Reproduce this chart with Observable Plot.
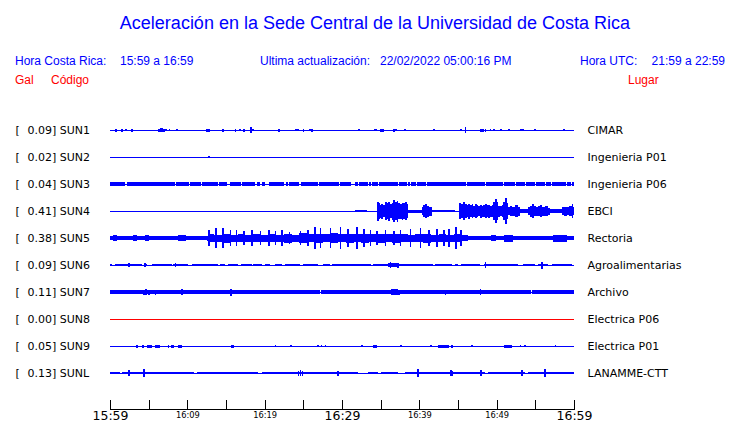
<!DOCTYPE html>
<html><head><meta charset="utf-8">
<script src="https://cdn.jsdelivr.net/npm/d3@7"></script>
<script src="https://cdn.jsdelivr.net/npm/@observablehq/plot@0.6"></script>
<style>
body{margin:0;background:#fff;}
#page{width:740px;height:423px;position:relative;overflow:hidden;background:#fff;}
#head{position:relative;width:740px;height:88px;font-family:"Liberation Sans",Arial,sans-serif;color:#0000ff;}
#head span{position:absolute;white-space:pre;line-height:1;}
#chart svg{display:block;}
</style></head>
<body><div id="page"><div id="head"></div><div id="chart"></div></div>
<script>
// ---------- text ----------
const titleText = "Aceleración en la Sede Central de la Universidad de Costa Rica";
const headerRow = [
  ["Hora Costa Rica:", 15], ["15:59 a 16:59", 120],
  ["Ultima actualización:", 260], ["22/02/2022 05:00:16 PM", 380],
  ["Hora UTC:", 580]
];
const utcRange = "21:59 a 22:59";
const legendRow = [["Gal", 15], ["Código", 51], ["Lugar", 628]];

// ---------- stations ----------
const codes = ["SUN1","SUN2","SUN3","SUN4","SUN5","SUN6","SUN7","SUN8","SUN9","SUNL"];
const peakGal = [0.09,0.02,0.04,0.41,0.38,0.09,0.11,0.00,0.05,0.13];
const places = ["CIMAR","Ingenieria P01","Ingenieria P06","EBCI","Rectoria","Agroalimentarias","Archivo","Electrica P06","Electrica P01","LANAMME-CTT"];

// ---------- time axis (minutes after 15:59) ----------
const tickMinutes = [0,5,10,15,20,25,30,35,40,45,50,55,60];
const tickLabelMinutes = [0,10,20,30,40,50,60];
const tickLabels = ["15:59","16:09","16:19","16:29","16:39","16:49","16:59"];

// ---------- trace shapes: [minute, half amplitude] / [from, to, half amplitude] ----------
const sun1Spikes = [[0.74,1.5],[1.51,1.5],[2.03,1],[2.81,1.5],[6.3,1.5],[6.47,2.3],[6.6,1.8],[6.75,2],[6.89,1.5],[7.2,1],[7.63,1],[8.63,0.8],[12.5,1.5],[12.71,1.5],[14.52,1.5],[16.16,1.5],[16.72,1.3],[18.14,3.3],[18.4,1.3],[21.76,1.5],[24.01,1.3],[24.27,1],[24.96,1.5],[25.82,1.3],[26.08,1.5],[32.11,1],[36.69,1.5],[36.95,1.3],[38.06,1],[41.81,1],[45.35,1],[45.91,3],[48.49,1.5],[49.14,1],[49.62,1],[50.47,1],[51.51,1],[53.06,1.3],[53.32,1],[54.87,1.3],[58.62,1]];
const sun1Blocks = [[6.4,6.95,1.3],[17.15,17.45,1.5],[34.2,34.5,1.3],[34.95,35.45,1.5],[47.85,48.3,1.5]];

const sun2Spikes = [[12.71,1.2]];

const sun3Blocks = [[0,2.0,1.8],[2.15,8.4,1.8],[8.55,10.25,1.8],[10.4,11.8,1.8],[11.95,13.95,1.8],[14.1,15.1,1.8],[15.5,16.95,1.8],[17.1,18.75,1.8],[19.0,19.4,1.8],[19.6,20.0,1.8],[20.5,22.55,1.8],[22.7,23.0,1.8],[23.15,24.5,1.8],[24.65,26.85,1.8],[27.0,29.65,1.8],[29.8,31.2,1.8],[31.7,32.05,1.8],[32.2,33.35,1.8],[33.5,33.75,1.8],[33.9,34.65,1.8],[34.8,37.25,1.8],[37.4,38.35,1.8],[38.5,38.75,1.8],[38.9,39.6,1.8],[39.75,40.85,1.8],[41.0,46.05,1.8],[46.2,48.45,1.8],[48.6,50.85,1.8],[51.0,52.35,1.8],[52.5,53.65,1.8],[53.8,54.95,1.8],[55.1,56.2,1.8],[56.35,57.05,1.8],[57.2,59.0,1.8],[59.15,59.65,1.8],[59.8,60,1.8]];

const sun4Env = [[0,0.5],[31.68,1],[33.2,0.5],[34.57,9.5],[34.75,8],[34.91,6.5],[35.1,7.5],[35.34,6],[35.56,9],[35.78,8],[35.99,9.5],[36.21,7],[36.42,8.5],[36.64,11],[36.85,9],[37.07,10.5],[37.28,8],[37.5,7.5],[37.71,8.5],[37.93,8],[38.15,9],[38.36,7],[38.58,1.5],[40.31,4],[40.5,6],[40.75,7],[41.0,5.5],[41.3,4.5],[41.6,1.4],[44.61,0.5],[45.17,8],[45.4,7],[45.69,9],[45.9,7],[46.1,6],[46.3,7.5],[46.55,6],[46.77,7],[47.0,5.5],[47.2,7],[47.41,6],[47.62,5],[47.84,6.5],[48.05,5.5],[48.27,6],[48.49,7],[48.7,6],[48.92,6.5],[49.14,5.5],[49.35,6],[49.57,9],[49.78,11.7],[50.0,9],[50.21,5.5],[50.45,5],[50.7,6],[50.86,9],[51.1,12.7],[51.3,8],[51.51,4],[51.72,5],[52.0,4.5],[52.37,6],[52.7,4.5],[53.02,2],[54.09,4],[54.3,5.5],[54.52,7],[54.8,5],[55.1,4.5],[55.35,5],[55.6,6],[55.9,4.5],[56.2,5],[56.46,5],[56.7,3.5],[56.9,2],[58.4,4],[58.7,4.5],[59.05,4],[59.35,5],[59.7,7],[59.9,4],[60,4]];

const sun5Env = [[0,2],[0.4,3],[0.9,2],[1.5,2.3],[2.2,1.8],[3.0,2.8],[3.5,2],[4.5,3],[5.0,2.2],[6.0,1.8],[7.0,2.3],[8.0,1.8],[8.8,2.8],[9.8,2],[10.5,1.8],[11.5,2.3],[12.5,2.5],[12.7,4],[13.5,3.5],[14.5,4.5],[15.5,3.5],[16.5,4],[17.5,3.5],[18.5,4],[19.5,3.5],[20.5,4],[21.5,3.5],[22.5,4.5],[23.5,3.5],[24.5,5],[25.5,4],[26.5,4.5],[27.5,4],[28.5,5],[29.5,4],[30.5,4.5],[31.5,4],[32.5,4.5],[33.5,4],[34.5,4.5],[35.5,4],[36.5,4.5],[37.5,4],[38.5,3.5],[39.5,4],[40.5,4.5],[41.5,3.5],[42.5,4],[43.5,3.5],[44.5,4],[45.5,3],[46.3,2.3],[49.3,3],[49.9,2.3],[50.9,3.5],[52.1,2.3],[57.3,3.5],[59.1,2.3],[60,2.3]];
const sun5Spikes = [[12.71,8],[13.67,10],[14.52,10],[15.52,8],[16.29,8],[17.24,7],[18.32,8],[19.4,7],[20.47,8],[21.34,7],[22.2,8],[23.15,6],[24.57,7],[25.51,8],[26.42,11],[27.16,10],[28.45,10],[29.74,11],[30.69,9],[31.9,11],[32.76,9],[33.62,8],[34.49,7],[35.56,8],[36.64,7],[37.5,8],[38.79,9],[40.09,10],[41.16,8],[42.25,9],[43.1,8],[43.75,9],[44.7,11],[45.35,8]];

const sun6Blocks = [[0,0.2,1.3],[0.65,4.1,1.3],[4.45,4.74,1.3],[5.39,7.97,1.3],[8.19,10.13,1.3],[10.65,14.0,1.3],[14.2,14.9,1.3],[15.3,16.6,1.3],[17.0,18.3,1.3],[18.5,19.6,1.3],[20.0,20.7,1.3],[21.3,22.2,1.3],[22.6,24.6,1.3],[24.9,26.9,1.3],[27.6,28.4,1.3],[28.7,33.8,1.3],[34.05,41.8,1.3],[42.0,44.2,1.3],[44.6,45.0,1.3],[45.4,47.8,1.3],[48.3,52.8,1.3],[53.45,54.95,1.3],[55.4,56.7,1.3],[57.1,59.7,1.3],[36.0,37.3,2]];
const sun6Spikes = [[2.37,2],[4.44,2],[8.4,2.3],[36.2,3],[37.2,2.5],[48.5,3.3],[55.8,3.5]];

const sun7Blocks = [[0,27.1,1.6],[27.3,54.4,1.6],[54.6,60,1.6],[36.4,37.3,2.8]];
const sun7Spikes = [[4.31,2.5],[4.61,3],[4.96,2.5],[5.82,2.5],[7.46,2],[8.53,2],[9.27,3.3],[10.13,2],[14.01,2],[15.6,3.5],[17.46,1.8],[19.18,2],[19.96,2],[21.77,2],[22.97,2],[23.49,2],[25,2],[25.43,2],[31.16,2],[36.5,3],[36.85,3],[37.28,2.5],[38.36,1.8],[39.66,1.8],[42.46,2],[43.32,2.5],[43.75,2],[44.53,1.8],[47.84,3.3],[49.14,1.8],[52.46,2.3],[56.9,2],[58.62,2.3]];

const sun9Blocks = [[3.3,3.6,1.5],[4.1,4.4,1.5],[4.8,5.4,1.5],[5.85,6.5,1.5],[7.45,7.65,1.5],[7.9,8.3,1.5],[8.8,9.35,1.5],[15.7,16.0,1.5],[34.0,34.55,1.5],[42.4,43.0,1.5],[43.1,43.8,1.5],[44.1,44.3,1.5],[51.0,52.0,1.5]];
const sun9Spikes = [[21.34,1.3],[23.32,1.3],[26.85,1.3],[27.28,1.3],[27.8,1.3],[32.54,1.3],[37.59,1.3],[41.47,1.3],[46.77,1.3],[53.02,1.3],[53.58,1.3],[57.54,1.3]];

const sunlBlocks = [[0,1.3,1.4],[1.5,10.8,1.4],[11.2,19.2,1.4],[19.6,32.1,1.4],[33.4,34.7,1.4],[35.1,37.3,1.4],[38.1,48.5,1.4],[48.9,53.7,1.4],[54.1,60,1.4]];
const sunlSpikes = [[2.37,3.3],[4.31,4],[24.3,2.5],[24.57,3],[24.8,2.5],[29.44,2.5],[39.74,4],[44.0,3],[44.2,2.5],[47.93,3],[53.23,3.3],[56.16,4.3]];

// ---------- build tables ----------
const blocks = [], spikes = [], env = [];
const addBlocks = (code, arr) => arr.forEach(([t0,t1,a]) => blocks.push({code,t0,t1,a}));
const addSpikes = (code, arr) => arr.forEach(([t,a]) => spikes.push({code,t,a}));
const addEnv = (code, arr) => arr.forEach(([t,a]) => env.push({code,t,a}));
addSpikes("SUN1", sun1Spikes); addBlocks("SUN1", sun1Blocks);
addSpikes("SUN2", sun2Spikes);
addBlocks("SUN3", sun3Blocks);
addEnv("SUN4", sun4Env);
addEnv("SUN5", sun5Env); addSpikes("SUN5", sun5Spikes);
addBlocks("SUN6", sun6Blocks); addSpikes("SUN6", sun6Spikes);
addBlocks("SUN7", sun7Blocks); addSpikes("SUN7", sun7Spikes);
addBlocks("SUN9", sun9Blocks); addSpikes("SUN9", sun9Spikes);
addBlocks("SUNL", sunlBlocks); addSpikes("SUNL", sunlSpikes);

// ---------- header ----------
const head = document.getElementById("head");
function span(text, css) { const s = document.createElement("span"); s.textContent = text; s.style.cssText = css; head.appendChild(s); }
span(titleText, "left:0;width:750px;text-align:center;top:13.5px;font-size:18px;");
headerRow.forEach(([t,x]) => span(t, `left:${x}px;top:55px;font-size:12px;`));
span(utcRange, "right:15px;top:55px;font-size:12px;");
legendRow.forEach(([t,x]) => span(t, `left:${x}px;top:74px;font-size:12px;color:#ff0000;`));

// ---------- chart ----------
const BLUE = "#0000ff", RED = "#ff0000";
const colorOf = c => c === "SUN8" ? RED : BLUE;
const row = c => codes.indexOf(c);
const ROW_PX = 27; // amplitudes are read in pixel-like units; one row = 27 units
const yLo = d => row(d.code) - d.a / ROW_PX;
const yHi = d => row(d.code) + d.a / ROW_PX;
const font = "DejaVu Sans";
const labels = tickLabelMinutes.map((t,i) => ({t, label: tickLabels[i], major: t % 30 === 0}));

const chart = Plot.plot({
  width: 740, height: 335,
  marginLeft: 110, marginRight: 166, marginTop: 0, marginBottom: 14,
  x: {domain: [0, 60], axis: null},
  y: {domain: [0, 9], range: [42, 285], axis: null},
  style: {background: "white", overflow: "visible"},
  marks: [
    Plot.ruleY(codes, {y: (d,i) => i, stroke: d => colorOf(d), strokeWidth: 1, shapeRendering: "crispEdges"}),
    Plot.rect(blocks, {x1: "t0", x2: "t1", y1: yLo, y2: yHi, fill: d => colorOf(d.code), shapeRendering: "crispEdges"}),
    Plot.areaY(env, {x: "t", y1: yLo, y2: yHi, z: "code", fill: BLUE, curve: "step-after", shapeRendering: "crispEdges"}),
    Plot.ruleX(spikes, {x: "t", y1: yLo, y2: yHi, stroke: BLUE, strokeWidth: 1.5, shapeRendering: "crispEdges"}),
    Plot.text(codes, {y: (d,i) => i, text: () => "[", frameAnchor: "left", dx: -95, textAnchor: "start", fontFamily: font, fontSize: 11, fill: "black"}),
    Plot.text(codes, {y: (d,i) => i, text: (d,i) => `${peakGal[i].toFixed(2)}] ${d}`, frameAnchor: "left", dx: -83, textAnchor: "start", fontFamily: font, fontSize: 11, fill: "black"}),
    Plot.text(places, {y: (d,i) => i, text: d => d, frameAnchor: "right", dx: 13, textAnchor: "start", fontFamily: font, fontSize: 11, fill: "black"}),
    Plot.frame({anchor: "bottom", stroke: "black", shapeRendering: "crispEdges"}),
    Plot.ruleX(tickMinutes, {x: d => d, stroke: "black", insetTop: 312, shapeRendering: "crispEdges"}),
    Plot.text(labels.filter(d => d.major), {x: "t", text: "label", frameAnchor: "bottom", lineAnchor: "top", dy: 2, fontFamily: font, fontSize: 12.5, fill: "black"}),
    Plot.text(labels.filter(d => !d.major), {x: "t", text: "label", frameAnchor: "bottom", lineAnchor: "top", dy: 3, fontFamily: font, fontSize: 8.3, fill: "black"})
  ]
});
document.getElementById("chart").appendChild(chart);
</script>
</body></html>
